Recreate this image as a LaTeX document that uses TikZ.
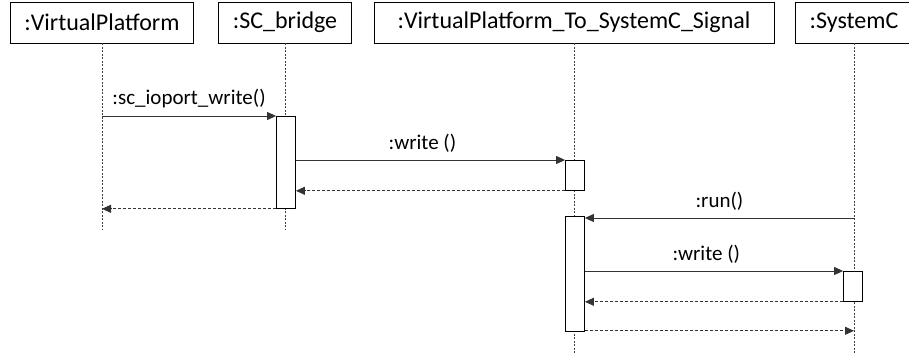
\documentclass[tikz,border=0pt]{standalone}
\usepackage{fontspec}
\setmainfont{Carlito}
\usetikzlibrary{arrows.meta,positioning}

\tikzset{
  head/.style={draw, line width=0.8pt, fill=white, minimum height=41pt, inner sep=0pt, font=\fontsize{24}{28}\selectfont},
  life/.style={dash pattern=on 2pt off 1.5pt, line width=0.6pt, black!75},
  act/.style={draw, line width=0.8pt, fill=white, minimum width=19pt, inner sep=0pt},
  msg/.style={line width=0.9pt, black!80, -{Triangle[length=9pt,width=8pt]}},
  ret/.style={msg, dash pattern=on 3pt off 2pt},
  lbl/.style={black, font=\fontsize{21}{25}\selectfont, above=4pt}
}

\begin{document}
\begin{tikzpicture}[x=1pt, y=-1pt]
  \useasboundingbox (0, 0) rectangle (909, 353);

  \node[head, minimum width=183pt] (vp) at (102, 22.5) {:VirtualPlatform};
  \node[head, minimum width=133pt] (bridge) at (285, 22.5) {:SC\_bridge};
  \node[head, minimum width=400pt] (signal) at (574, 22.5) {:VirtualPlatform\_To\_SystemC\_Signal};
  \node[head, minimum width=118pt] (sysc) at (854, 22.5) {:SystemC};

  \coordinate (vpend) at (vp.south |- 0, 230);
  \coordinate (bridgeend) at (bridge.south |- 0, 230);
  \coordinate (signalend) at (signal.south |- 0, 353);
  \coordinate (syscend) at (sysc.south |- 0, 353);
  \draw[life] (vp.south) -- (vpend);
  \draw[life] (bridge.south) -- (bridgeend);
  \draw[life] (signal.south) -- (signalend);
  \draw[life] (sysc.south) -- (syscend);

  \node[act, minimum height=92pt, anchor=north] (abridge) at (286, 116) {};
  \node[act, minimum height=30pt, anchor=north] (asig1) at (575, 160) {};
  \node[act, minimum height=115pt, anchor=north] (asig2) at (575, 216) {};
  \node[act, minimum height=30pt, anchor=north] (asysc) at (853, 271) {};

  \draw[msg] (vp.south |- abridge.north) -- (abridge.north west) node[lbl, midway] {:sc\_ioport\_write()};
  \draw[msg] (asig1.north west -| abridge.east) -- (asig1.north west) node[lbl, pos=0.47] {:write ()};
  \draw[ret] (asig1.south west) -- (asig1.south west -| abridge.east);
  \draw[ret] (abridge.south west) -- (abridge.south west -| vp.south);

  \draw[msg] ([yshift=-2pt]asig2.north east -| sysc.south) -- ([yshift=-2pt]asig2.north east) node[lbl, midway] {:run()};
  \draw[msg] (asysc.north west -| asig2.east) -- (asysc.north west) node[lbl, pos=0.47] {:write ()};
  \draw[ret] (asysc.south west) -- (asysc.south west -| asig2.east);
  \draw[ret] ([yshift=1pt]asig2.south east) -- ([yshift=1pt]asig2.south east -| sysc.south);
\end{tikzpicture}
\end{document}
